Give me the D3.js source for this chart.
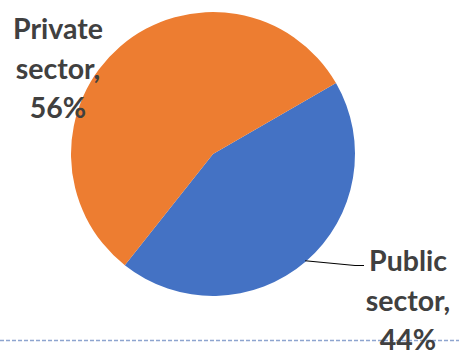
<!DOCTYPE html>
<html><head><meta charset="utf-8">
<script src="https://cdn.jsdelivr.net/npm/d3@7"></script>
<style>html,body{margin:0;padding:0;background:#fff;overflow:hidden}</style>
</head><body>
<svg id="c" width="459" height="352"></svg>
<script>
const categories = ["Public sector", "Private sector"];
const values = [44, 56];
const colors = ["#4472C4", "#ED7D31"];
const labelLines = [["Public", "sector,", "44%"], ["Private", "sector,", "56%"]];

const svg = d3.select("#c");
const W = 459, H = 352;
const cx = 213, cy = 154, r = 142;
const startAngle = 60 * Math.PI / 180;

// dashed separator
svg.append("line").attr("x1", 0).attr("x2", W).attr("y1", 340.5).attr("y2", 340.5)
  .attr("stroke", "#8EA5CF").attr("stroke-width", 1.3).attr("stroke-dasharray", "4,2");

const pie = d3.pie().sort(null).value(d => d)
  .startAngle(startAngle).endAngle(startAngle + 2 * Math.PI);
const arcs = pie(values);
const arc = d3.arc().innerRadius(0).outerRadius(r);

const g = svg.append("g").attr("transform", `translate(${cx},${cy})`);
g.selectAll("path").data(arcs).join("path")
  .attr("d", arc).attr("fill", (d, i) => colors[i]);

// leader line for Public sector
const leadA = (arcs[0].startAngle + arcs[0].endAngle) / 2;
const lp = [Math.sin(leadA) * (r - 1), -Math.cos(leadA) * (r - 1)];
svg.append("polyline")
  .attr("points", `${cx + lp[0]},${cy + lp[1]} 355,265.5 364,265.5`)
  .attr("fill", "none").attr("stroke", "#000").attr("stroke-width", 1.2);

const font = "Lato, 'Open Sans', sans-serif";
function label(lines, x, y0) {
  const t = svg.append("text").attr("text-anchor", "middle")
    .attr("font-family", font).attr("font-weight", 700)
    .attr("font-size", 28.5).attr("fill", "#404040");
  lines.forEach((s, i) => t.append("tspan").attr("x", x).attr("y", y0 + i * 39.5).text(s));
}
label(labelLines[1], 58, 39);
label(labelLines[0], 408, 271);
</script>
</body></html>
